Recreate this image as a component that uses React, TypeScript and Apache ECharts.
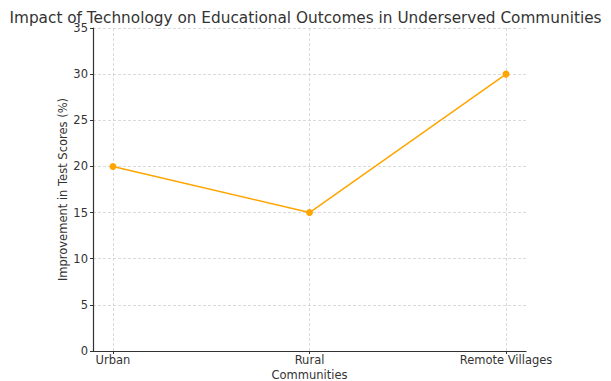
import React, { useEffect, useRef } from "react";
import * as echarts from "echarts";

const categories = ["Urban", "Rural", "Remote Villages"];
const improvement = [20, 15, 30];
const yTicks = [0, 5, 10, 15, 20, 25, 30, 35];

export default function App() {
  const ref = useRef<HTMLDivElement>(null);
  useEffect(() => {
    const chart = echarts.init(ref.current!, null, { renderer: "svg" });
    const font = "DejaVu Sans";
    const idx = categories.map((_, i) => i);
    const gridStyle = { color: "#d0d0d0", type: [3, 2] as number[], width: 0.8 };
    chart.setOption({
      animation: false,
      textStyle: { fontFamily: font },
      title: {
        text: "Impact of Technology on Educational Outcomes in Underserved Communities",
        left: "center",
        top: 5,
        textStyle: { fontFamily: font, fontSize: 15.3, fontWeight: "normal", color: "#333" },
      },
      grid: { left: 93, right: 85, top: 28, bottom: 30, containLabel: false, outerBoundsMode: "none" },
      xAxis: {
        type: "value",
        min: -0.1016,
        max: 2.1016,
        name: "Communities",
        nameLocation: "middle",
        nameGap: 18,
        nameMoveOverlap: false,
        nameTextStyle: { fontFamily: font, fontSize: 11.5, color: "#333", lineHeight: 12 },
        axisLine: { show: true, onZero: false, lineStyle: { color: "#333", width: 1.2 } },
        axisTick: { show: true, customValues: idx, length: 3, lineStyle: { color: "#333" } },
        axisLabel: {
          customValues: idx,
          formatter: (v: number) => categories[Math.round(v)] ?? "",
          fontFamily: font,
          fontSize: 11.5,
          color: "#333",
          margin: 3,
        },
        splitLine: { show: false },
      },
      yAxis: {
        type: "value",
        min: 0,
        max: 35,
        interval: 5,
        name: "Improvement in Test Scores (%)",
        nameLocation: "middle",
        nameGap: 24,
        nameMoveOverlap: false,
        nameTextStyle: { fontFamily: font, fontSize: 11.5, color: "#333" },
        axisLine: { show: true, onZero: false, lineStyle: { color: "#333", width: 1.2 } },
        axisTick: { show: true, length: 3, lineStyle: { color: "#333" } },
        axisLabel: {
          fontFamily: font,
          fontSize: 11.5,
          color: "#333",
          margin: 5,
          formatter: (v: number) => (yTicks.includes(v) ? String(v) : ""),
        },
        splitLine: { show: true, lineStyle: gridStyle },
      },
      series: [
        {
          type: "line",
          data: improvement.map((v, i) => [i, v]),
          symbol: "circle",
          symbolSize: 7,
          lineStyle: { color: "#FFA500", width: 1.5 },
          itemStyle: { color: "#FFA500" },
          z: 3,
          markLine: {
            silent: true,
            symbol: "none",
            label: { show: false },
            lineStyle: gridStyle,
            z: 1,
            data: idx.map((i) => [{ coord: [i, 0] }, { coord: [i, 35] }]),
          },
        },
      ],
    });
    return () => chart.dispose();
  }, []);
  return <div ref={ref} style={{ width: 611, height: 381, position: "absolute", left: 0, top: 0 }} />;
}
